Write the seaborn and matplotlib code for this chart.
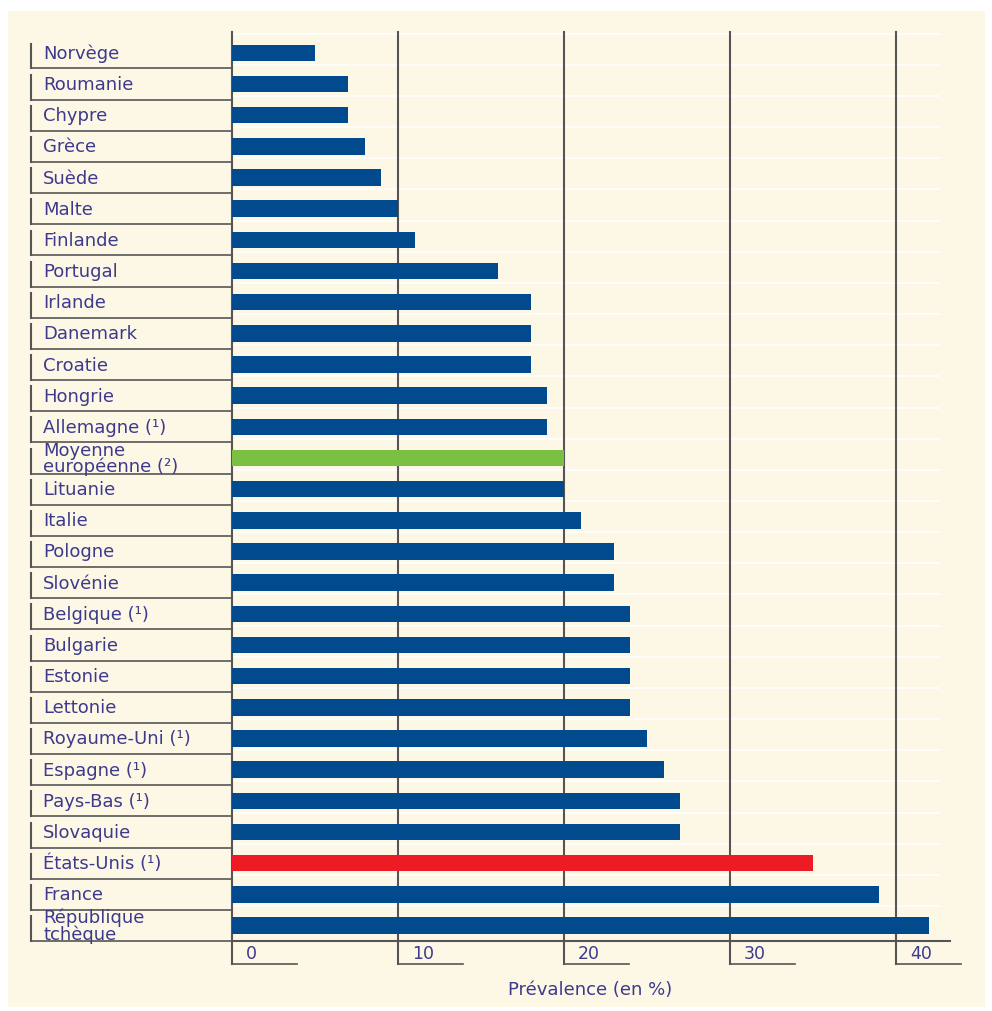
import matplotlib
matplotlib.use("Agg")
import matplotlib.pyplot as plt
import matplotlib.transforms as mtransforms
from matplotlib.patches import Rectangle
import seaborn as sns

COUNTRIES = ["Norvège", "Roumanie", "Chypre", "Grèce", "Suède", "Malte",
             "Finlande", "Portugal", "Irlande", "Danemark", "Croatie",
             "Hongrie", "Allemagne (¹)", "Moyenne\neuropéenne (²)",
             "Lituanie", "Italie", "Pologne", "Slovénie", "Belgique (¹)",
             "Bulgarie", "Estonie", "Lettonie", "Royaume-Uni (¹)",
             "Espagne (¹)", "Pays-Bas (¹)", "Slovaquie", "États-Unis (¹)",
             "France", "République\ntchèque"]
PREVALENCE = [5, 7, 7, 8, 9, 10, 11, 16, 18, 18, 18, 19, 19, 20, 20, 21,
              23, 23, 24, 24, 24, 24, 25, 26, 27, 27, 35, 39, 42]
X_TICKS = [0, 10, 20, 30, 40]
X_LABEL = "Prévalence (en %)"

BLUE = "#004a8d"
GREEN = "#7ac143"
RED = "#ed1c24"
CREAM = "#fdf7e6"
TEXT = "#3d3a8c"
LINE = "#555555"

# colour of each bar: average in green, USA in red
colors = []
for name in COUNTRIES:
    if name.startswith("Moyenne"):
        colors.append(GREEN)
    elif name.startswith("États"):
        colors.append(RED)
    else:
        colors.append(BLUE)

plt.rcParams["font.family"] = ["DejaVu Sans"]

fig = plt.figure(figsize=(9.92, 10.12), dpi=100)
fig.patch.set_facecolor("white")

# cream panel behind everything
fig.patches.append(Rectangle((8 / 992, 1 - 1008 / 1012), 977 / 992, 996 / 1012,
                             transform=fig.transFigure, facecolor=CREAM,
                             edgecolor="none", zorder=-10))

ax = fig.add_axes([232 / 992, 1 - 942 / 1012, 708 / 992, 909 / 1012])
ax.set_facecolor("none")

sns.barplot(x=PREVALENCE, y=COUNTRIES, hue=COUNTRIES, palette=colors,
            orient="h", legend=False, width=0.53, saturation=1, ax=ax, zorder=3)

n = len(COUNTRIES)
ax.set_xlim(0, 708 / 16.6)
ax.set_ylim(n - 0.5, -0.67)

for s in ax.spines.values():
    s.set_visible(False)
ax.set_xticks([])
ax.set_yticks([])
ax.set_xlabel("")
ax.set_ylabel("")

# faint white row separators across plot area
for i in range(n):
    ax.axhline(i - 0.62, color="white", lw=1.5, alpha=0.8, zorder=1)

# vertical grid lines with the little tick brackets below
for t in X_TICKS:
    ax.plot([t, t], [-0.67, n - 0.5 + 0.74], color=LINE, lw=1.5,
            zorder=2, clip_on=False)
    ax.plot([t, t + 65 / 16.6], [n - 0.5 + 0.74, n - 0.5 + 0.74],
            color=LINE, lw=1.2, zorder=2, clip_on=False)
    ax.text(t + 14 / 16.6, n - 0.5 + 0.38, str(t), color=TEXT,
            fontsize=12.5, ha="left", va="center")

# bottom axis line
ax.plot([0, 950 / 16.6 - 232 / 16.6], [n - 0.5, n - 0.5], color=LINE,
        lw=1.5, zorder=4, clip_on=False)

# country labels with bracket lines
trans = mtransforms.blended_transform_factory(fig.transFigure, ax.transData)
for i, name in enumerate(COUNTRIES):
    ax.text(43 / 992, i, name, transform=trans, color=TEXT, fontsize=13,
            ha="left", va="center", linespacing=0.88)
    ax.plot([31 / 992, 31 / 992], [i - 0.3, i + 0.5], transform=trans,
            color=LINE, lw=1.5, clip_on=False)
    ax.plot([31 / 992, 231 / 992], [i + 0.5, i + 0.5], transform=trans,
            color=LINE, lw=1.2, clip_on=False)

fig.text(590 / 992, 1 - 990 / 1012, X_LABEL, color=TEXT, fontsize=13,
         ha="center", va="center")

fig.savefig("out.png", dpi=100, facecolor=fig.get_facecolor())
